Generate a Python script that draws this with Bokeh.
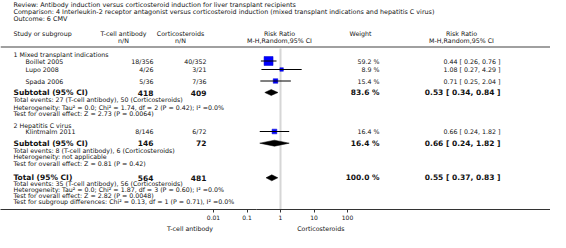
import math
from bokeh.plotting import figure
from bokeh.models import (Range1d, LogScale, LogAxis, FixedTicker, ColumnDataSource,
                          CustomJSTickFormatter)
from bokeh.core.properties import value
from bokeh.embed import file_html
from bokeh.resources import INLINE

# ---------------- data ----------------
title_lines = [
    "Review:  Antibody induction versus corticosteroid induction for liver transplant recipients",
    "Comparison:  4 Interleukin-2 receptor antagonist versus corticosteroid induction (mixed transplant indications and hepatitis C virus)",
    "Outcome:  6 CMV",
]
subgroups = ["1 Mixed transplant indications", "2 Hepatitis C virus"]
studies = ["Boillet 2005", "Lupo 2008", "Spada 2006", "Klintmalm 2011"]
tcell_events = [18, 4, 5, 8]
tcell_total = [356, 26, 36, 146]
cort_events = [40, 3, 7, 6]
cort_total = [352, 21, 36, 72]
weights = [59.2, 8.9, 15.4, 16.4]
rr = [0.44, 1.08, 0.71, 0.66]
rr_lo = [0.26, 0.27, 0.25, 0.24]
rr_hi = [0.76, 4.29, 2.04, 1.82]

sub_tcell_n = [418, 146]
sub_cort_n = [409, 72]
sub_weight = [83.6, 16.4]
sub_rr = [0.53, 0.66]
sub_lo = [0.34, 0.24]
sub_hi = [0.84, 1.82]
sub_stats = [
    ["Total events: 27 (T-cell antibody), 50 (Corticosteroids)",
     "Heterogeneity: Tau\u00b2 = 0.0; Chi\u00b2 = 1.74, df = 2 (P = 0.42); I\u00b2 =0.0%",
     "Test for overall effect: Z = 2.73 (P = 0.0064)"],
    ["Total events: 8 (T-cell antibody), 6 (Corticosteroids)",
     "Heterogeneity: not applicable",
     "Test for overall effect: Z = 0.81 (P = 0.42)"],
]
tot_tcell_n = 564
tot_cort_n = 481
tot_weight = 100.0
tot_rr = 0.55
tot_lo = 0.37
tot_hi = 0.83
tot_stats = [
    "Total events: 35 (T-cell antibody), 56 (Corticosteroids)",
    "Heterogeneity: Tau\u00b2 = 0.0; Chi\u00b2 = 1.87, df = 3 (P = 0.60); I\u00b2 =0.0%",
    "Test for overall effect: Z = 2.82 (P = 0.0048)",
    "Test for subgroup differences: Chi\u00b2 = 0.13, df = 1 (P = 0.71), I\u00b2 =0.0%",
]
tick_values = [0.01, 0.1, 1, 10, 100]
tick_labels = ["0.01", "0.1", "1", "10", "100"]
favour_labels = ["T-cell antibody", "Corticosteroids"]

# ---------------- layout (picture pixels) ----------------
FONT = value("DejaVu Sans")
TITLE = "6.4px"
SMALL = "6.3px"
BIG = "7.5px"
TXT = "#111111"
W, FRAME_H = 550, 209
X_LEFT, X_INDENT = 13, 25
X_TC, X_CO = 153, 206          # right edges of n/N columns
X_TC_H, X_CO_H = 123, 180      # header centres
X_RR_H = 279
X_W, X_W_H = 379, 360
X_CI, X_CI_H = 500, 461
ONE_PX, DECADE = 280, 33.5     # forest scale: x of RR=1, pixels per decade
FAV_POS = [0.002, 16]          # where the two favour labels sit on the log scale

y_title = [4.5, 11.5, 18.5]
y_head = [32.5, 40]
y_sep = 46.5
y_group = [53.5, 124.7]
y_study = [60.5, 69, 80.5, 131]
y_sub = [92, 142.7]
y_sub_stats = [[99.3, 106.7, 113], [150, 156, 163]]
y_tot = 177.3
y_tot_stats = [183.3, 189, 194.7, 200.7]

p = figure(frame_width=W, frame_height=FRAME_H,
           x_range=Range1d(0, W), y_range=Range1d(FRAME_H, 0),
           output_backend="svg", toolbar_location=None, min_border=0,
           x_axis_location=None, y_axis_location=None)
p.outline_line_color = None
p.grid.visible = False
p.background_fill_color = "white"
p.border_fill_color = "white"

p.extra_x_ranges = {"rr": Range1d(10 ** ((0 - ONE_PX) / DECADE), 10 ** ((W - ONE_PX) / DECADE))}
p.extra_x_scales = {"rr": LogScale()}


def add_text(xs, ys, texts, size=SMALL, bold=False, align="left"):
    src = ColumnDataSource(dict(x=list(xs), y=list(ys), t=list(texts)))
    p.text(x="x", y="y", text="t", source=src, text_font=FONT, text_font_size=size,
           text_font_style="bold" if bold else "normal", text_align=align,
           text_baseline="middle", text_color=TXT)


# title
add_text([X_LEFT] * 3, y_title, title_lines, size=TITLE)
# headers
add_text([X_LEFT], [y_head[0]], ["Study or subgroup"])
add_text([X_TC_H, X_TC_H, X_CO_H, X_CO_H, X_RR_H, X_RR_H, X_W_H, X_CI_H, X_CI_H],
         [y_head[0], y_head[1], y_head[0], y_head[1], y_head[0], y_head[1], y_head[0], y_head[0], y_head[1]],
         ["T-cell antibody", "n/N", "Corticosteroids", "n/N", "Risk Ratio", "M-H,Random,95% CI",
          "Weight", "Risk Ratio", "M-H,Random,95% CI"], align="center")

# separator and reference line at RR = 1
p.segment(x0=[0], x1=[W], y0=[y_sep], y1=[y_sep], line_color="#a0a0a0", line_width=2)
p.segment(x0=[1], x1=[1], y0=[y_sep + 1.5], y1=[FRAME_H], x_range_name="rr",
          line_color="#d6d6d6", line_width=2)

# subgroup headers
add_text([X_LEFT] * 2, y_group, subgroups)

# study rows
add_text([X_INDENT] * len(studies), y_study, studies)
add_text([X_TC] * 4, y_study, [f"{e}/{n}" for e, n in zip(tcell_events, tcell_total)], align="right")
add_text([X_CO] * 4, y_study, [f"{e}/{n}" for e, n in zip(cort_events, cort_total)], align="right")
add_text([X_W] * 4, y_study, [f"{w:.1f} %" for w in weights], align="right")
add_text([X_CI] * 4, y_study, [f"{r:.2f} [ {l:.2f}, {h:.2f} ]" for r, l, h in zip(rr, rr_lo, rr_hi)],
         align="right")

box_sizes = [9.0 * math.sqrt(w / max(weights)) for w in weights]
p.scatter(x=rr, y=y_study, size=box_sizes, marker="square", x_range_name="rr",
          fill_color="#0000ff", line_color="#0000cc", line_width=0.5)
p.segment(x0=rr_lo, x1=rr_hi, y0=y_study, y1=y_study, x_range_name="rr",
          line_color="black", line_width=1)

# subtotals
add_text([X_LEFT] * 2, y_sub, ["Subtotal (95% CI)"] * 2, size=BIG, bold=True)
add_text([X_TC] * 2, y_sub, [str(n) for n in sub_tcell_n], size=BIG, bold=True, align="right")
add_text([X_CO] * 2, y_sub, [str(n) for n in sub_cort_n], size=BIG, bold=True, align="right")
add_text([X_W] * 2, y_sub, [f"{w:.1f} %" for w in sub_weight], size=BIG, bold=True, align="right")
add_text([X_CI] * 2, y_sub, [f"{r:.2f} [ {l:.2f}, {h:.2f} ]" for r, l, h in zip(sub_rr, sub_lo, sub_hi)],
         size=BIG, bold=True, align="right")
for g in range(2):
    add_text([X_LEFT] * 3, y_sub_stats[g], sub_stats[g])

H = 3.0
dxs = [[l, r, h, r] for l, r, h in zip(sub_lo, sub_rr, sub_hi)] + [[tot_lo, tot_rr, tot_hi, tot_rr]]
dys = [[y, y - H, y, y + H] for y in y_sub + [y_tot]]
p.patches(xs=dxs, ys=dys, x_range_name="rr", fill_color="black", line_color="black", line_width=0.5)

# total
add_text([X_LEFT], [y_tot], ["Total (95% CI)"], size=BIG, bold=True)
add_text([X_TC, X_CO, X_W, X_CI], [y_tot] * 4,
         [str(tot_tcell_n), str(tot_cort_n), f"{tot_weight:.1f} %",
          f"{tot_rr:.2f} [ {tot_lo:.2f}, {tot_hi:.2f} ]"], size=BIG, bold=True, align="right")
add_text([X_LEFT] * 4, y_tot_stats, tot_stats)

# axes
ax = LogAxis(x_range_name="rr", ticker=FixedTicker(ticks=tick_values, minor_ticks=[]),
             formatter=CustomJSTickFormatter(args=dict(vals=tick_values, labs=tick_labels), code="""
                const i = vals.findIndex(v => Math.abs(v - tick) <= 1e-9 * Math.max(1, Math.abs(v)));
                return i >= 0 ? labs[i] : "";
             """),
             axis_line_color="#333333", axis_line_width=1,
             major_tick_line_color="#333333", major_tick_in=0, major_tick_out=3,
             minor_tick_line_color=None, major_label_standoff=2,
             major_label_text_font="DejaVu Sans", major_label_text_font_size="6px",
             major_label_text_color=TXT)
p.add_layout(ax, "below")

ax2 = LogAxis(x_range_name="rr", ticker=FixedTicker(ticks=FAV_POS, minor_ticks=[]),
              formatter=CustomJSTickFormatter(args=dict(labs=favour_labels),
                                              code="return tick < 1 ? labs[0] : labs[1];"),
              axis_line_color=None, major_tick_line_color=None, minor_tick_line_color=None,
              major_tick_in=0, major_tick_out=0, major_label_standoff=2,
              major_label_text_font="DejaVu Sans", major_label_text_font_size="6.3px",
              major_label_text_color=TXT)
p.add_layout(ax2, "below")

open("out.html", "w").write(file_html(p, INLINE))
